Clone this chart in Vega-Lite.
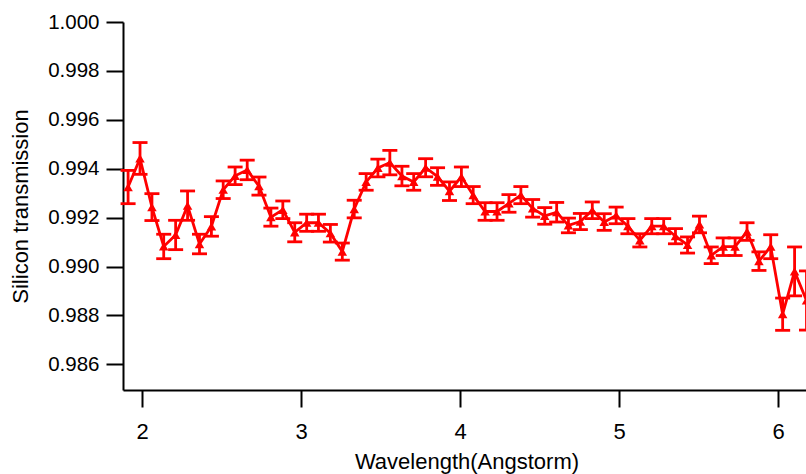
{
  "$schema": "https://vega.github.io/schema/vega-lite/v6.json",
  "width": 687,
  "height": 368,
  "autosize": {"type": "none"},
  "padding": {"left": 123, "top": 22, "right": 0, "bottom": 84},
  "background": "white",
  "config": {
    "view": {"stroke": null},
    "font": "Liberation Sans",
    "axis": {
      "grid": false,
      "domainColor": "black",
      "domainWidth": 2,
      "tickColor": "black",
      "tickWidth": 2,
      "tickSize": 17,
      "labelColor": "black",
      "titleColor": "black",
      "labelFont": "Liberation Sans",
      "titleFont": "Liberation Sans",
      "titleFontWeight": "normal"
    }
  },
  "data": {
    "values": [
      {"w": 1.912, "t": 0.99325, "e": 0.00068},
      {"w": 1.987, "t": 0.99442, "e": 0.00065},
      {"w": 2.062, "t": 0.99243, "e": 0.00055},
      {"w": 2.136, "t": 0.99082, "e": 0.0005},
      {"w": 2.211, "t": 0.99129, "e": 0.0006},
      {"w": 2.286, "t": 0.99249, "e": 0.0006},
      {"w": 2.361, "t": 0.99092, "e": 0.0004},
      {"w": 2.436, "t": 0.99164, "e": 0.0004},
      {"w": 2.510, "t": 0.99314, "e": 0.00036},
      {"w": 2.585, "t": 0.99371, "e": 0.00036},
      {"w": 2.661, "t": 0.99395, "e": 0.0004},
      {"w": 2.735, "t": 0.99329, "e": 0.00037},
      {"w": 2.810, "t": 0.99202, "e": 0.00037},
      {"w": 2.885, "t": 0.99232, "e": 0.00036},
      {"w": 2.960, "t": 0.9914, "e": 0.00039},
      {"w": 3.035, "t": 0.99179, "e": 0.00035},
      {"w": 3.109, "t": 0.99179, "e": 0.00035},
      {"w": 3.184, "t": 0.99136, "e": 0.00036},
      {"w": 3.259, "t": 0.99061, "e": 0.00035},
      {"w": 3.334, "t": 0.99235, "e": 0.00036},
      {"w": 3.409, "t": 0.99346, "e": 0.00034},
      {"w": 3.483, "t": 0.99403, "e": 0.00036},
      {"w": 3.558, "t": 0.99425, "e": 0.0005},
      {"w": 3.634, "t": 0.9937, "e": 0.0004},
      {"w": 3.708, "t": 0.99346, "e": 0.00034},
      {"w": 3.783, "t": 0.99404, "e": 0.00037},
      {"w": 3.858, "t": 0.99368, "e": 0.00036},
      {"w": 3.933, "t": 0.99308, "e": 0.00038},
      {"w": 4.008, "t": 0.99367, "e": 0.0004},
      {"w": 4.082, "t": 0.99292, "e": 0.00035},
      {"w": 4.157, "t": 0.99225, "e": 0.00036},
      {"w": 4.232, "t": 0.99225, "e": 0.00036},
      {"w": 4.307, "t": 0.99258, "e": 0.00036},
      {"w": 4.382, "t": 0.99292, "e": 0.00035},
      {"w": 4.456, "t": 0.99238, "e": 0.00036},
      {"w": 4.532, "t": 0.99207, "e": 0.00034},
      {"w": 4.607, "t": 0.99222, "e": 0.0004},
      {"w": 4.681, "t": 0.99168, "e": 0.0003},
      {"w": 4.756, "t": 0.99184, "e": 0.00033},
      {"w": 4.831, "t": 0.9923, "e": 0.00034},
      {"w": 4.906, "t": 0.99182, "e": 0.00034},
      {"w": 4.981, "t": 0.99209, "e": 0.00034},
      {"w": 5.055, "t": 0.99165, "e": 0.00031},
      {"w": 5.130, "t": 0.99107, "e": 0.00027},
      {"w": 5.205, "t": 0.99165, "e": 0.00031},
      {"w": 5.280, "t": 0.99165, "e": 0.00031},
      {"w": 5.354, "t": 0.99124, "e": 0.00031},
      {"w": 5.430, "t": 0.99088, "e": 0.00033},
      {"w": 5.505, "t": 0.99172, "e": 0.00034},
      {"w": 5.579, "t": 0.99046, "e": 0.00034},
      {"w": 5.654, "t": 0.99081, "e": 0.00036},
      {"w": 5.729, "t": 0.99081, "e": 0.00036},
      {"w": 5.804, "t": 0.99143, "e": 0.00036},
      {"w": 5.879, "t": 0.99022, "e": 0.00038},
      {"w": 5.953, "t": 0.99081, "e": 0.00049},
      {"w": 6.028, "t": 0.98805, "e": 0.00066},
      {"w": 6.103, "t": 0.9898, "e": 0.001},
      {"w": 6.178, "t": 0.98861, "e": 0.00121}
    ]
  },
  "encoding": {
    "x": {
      "field": "w",
      "type": "quantitative",
      "scale": {"domain": [1.88, 6.2], "nice": false, "zero": false},
      "axis": {
        "title": "Wavelength(Angstorm)",
        "values": [2, 3, 4, 5, 6],
        "format": "d",
        "labelFontSize": 22,
        "titleFontSize": 22,
        "labelPadding": 14,
        "titlePadding": 9,
        "labelFlush": false
      }
    },
    "y": {
      "field": "t",
      "type": "quantitative",
      "scale": {"domain": [0.98495, 1.0], "nice": false, "zero": false},
      "axis": {
        "title": "Silicon transmission",
        "values": [0.986, 0.988, 0.99, 0.992, 0.994, 0.996, 0.998, 1.0],
        "format": ".3f",
        "labelFontSize": 20.5,
        "titleFontSize": 22,
        "labelPadding": 7,
        "titlePadding": 15,
        "labelFlush": false
      }
    }
  },
  "layer": [
    {
      "mark": {"type": "errorbar", "ticks": {"size": 15, "color": "#ff0000", "thickness": 2.8, "opacity": 1}, "rule": {"color": "#ff0000", "opacity": 1}, "color": "#ff0000", "opacity": 1, "thickness": 2.8},
      "encoding": {"yError": {"field": "e"}}
    },
    {
      "mark": {"type": "line", "color": "#ff0000", "strokeWidth": 2.8}
    },
    {
      "mark": {"type": "point", "shape": "triangle-up", "filled": true, "color": "#ff0000", "size": 90, "opacity": 1}
    }
  ]
}
